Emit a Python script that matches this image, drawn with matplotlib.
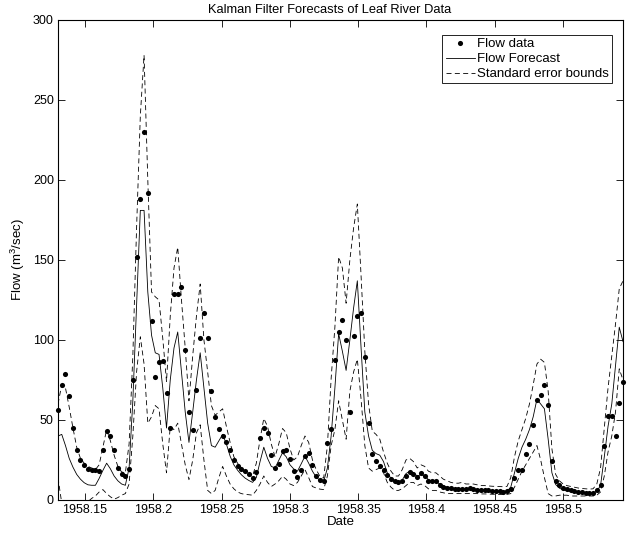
import numpy as np
import matplotlib
matplotlib.use('Agg')
import matplotlib.pyplot as plt
import matplotlib.ticker as ticker

plt.rcParams['font.family'] = ['Liberation Sans', 'DejaVu Sans']
plt.rcParams['mathtext.default'] = 'regular'

# daily series, first day
start_year = 1958.1302
days_per_year = 365.0

flow_data = [
    56, 72, 79, 65, 45, 31, 25, 22, 19.5, 19,
    18.5, 18, 31, 43, 40, 31, 20, 16, 15, 19.5,
    75, 152, 188, 230, 192, 112, 77, 86, 87, 67,
    45, 129, 129, 133, 94, 55, 44, 68.5, 101, 117,
    101, 68, 52, 44.5, 40, 36, 31, 25, 21.5, 19.6,
    18, 16, 14, 17.7, 38.8, 44.7, 42, 28.3, 19.8, 22.8,
    30.4, 31, 25.7, 18, 14.3, 18.6, 27.4, 29.5, 22, 15.2,
    12.4, 11.8, 35.9, 44.5, 87.7, 105, 112.6, 100, 55, 102.6,
    115, 117, 89.6, 47.9, 28.9, 24.3, 21, 18.6, 15.8, 13.3,
    11.6, 11.4, 11.8, 15.2, 17.3, 16.5, 14.3, 16.9, 14.8, 11.6,
    11.6, 12, 9.5, 8.4, 7.8, 7.4, 7, 7, 6.8, 6.8,
    7.4, 6.8, 6.3, 6.3, 6.2, 6.0, 5.8, 5.6, 5.5, 5.3,
    5.5, 6.8, 13.5, 18.8, 19, 28.9, 35.2, 47, 62.5, 65.5,
    71.7, 59.6, 24.3, 12, 9.1, 7.4, 6.8, 6.1, 5.5, 4.9,
    4.9, 4.4, 4.2, 4.4, 6.3, 9.5, 33.8, 52.8, 52.8, 40,
    60.6, 73.9,
]

flow_forecast = [
    40, 41, 34, 26, 20.5, 16, 13, 10.8, 9.5, 9.2,
    9.2, 13.5, 18.5, 23, 19.5, 15, 12, 10, 9.2, 20,
    62, 122, 181, 181, 130, 103, 92, 91, 70, 45,
    75, 95, 105, 80, 55, 36, 55, 75, 92, 70,
    48, 34, 33, 37, 41, 35, 27.4, 22, 18.6, 15.8,
    13.7, 12.2, 11, 14, 24, 33, 26, 21, 20, 24.7,
    29.5, 27, 22, 19.4, 18, 22.6, 27.4, 23, 18, 14.3,
    12.2, 11.6, 20, 40, 70, 104, 93, 81, 100, 120,
    137, 95, 55, 40, 31, 29, 28, 24, 17, 13.5,
    11, 10.5, 12.5, 16.5, 18, 17, 15, 15.8, 15.2, 12.7,
    11.6, 11.6, 10, 8.9, 8, 7.6, 7.2, 7, 7, 6.9,
    7.2, 7, 6.6, 6.4, 6.3, 6.1, 5.9, 5.7, 5.6, 5.4,
    5.5, 8, 17, 26, 33, 38, 44, 52, 63, 60,
    57, 38, 17, 9.7, 7.4, 6.3, 5.8, 5.4, 5, 4.7,
    4.5, 4.3, 4.1, 4.3, 5.5, 9, 27, 46, 60, 84,
    108, 99,
]

upper_bound = [
    60, 72, 70, 58, 45, 33, 26, 23, 21, 20,
    19, 22, 33, 44, 37, 28, 21, 17.5, 17, 35,
    90, 170, 240, 278, 200, 130, 127, 125, 101, 74,
    115, 145, 158, 125, 95, 62, 90, 115, 135, 100,
    80, 59, 53, 55, 57, 46, 36, 27, 23, 19.4,
    17, 15.4, 14.8, 23, 38, 51, 46, 35, 27, 35,
    44.7, 42, 32, 25, 27, 34, 40, 36, 25, 19,
    14.8, 13.7, 34, 76, 108, 152, 145, 123, 150, 170,
    185, 140, 93, 60, 43, 41, 38, 30, 23, 18,
    15, 15, 19, 25, 26, 24, 20, 22, 21, 18,
    17, 17, 15, 13, 12, 11, 10.5, 10.5, 11, 10,
    10, 10, 9.5, 9, 9, 8.8, 8.6, 8.5, 8.4, 8.3,
    8.5, 14, 27, 37, 44, 51, 60, 72, 85, 88,
    86, 68, 32, 16, 12, 10, 9, 8.5, 8, 7.5,
    7.2, 7, 6.8, 7, 10, 20, 45, 70, 90, 110,
    132, 137,
]

lower_bound = [
    14, -2, -8, -10, -9, -7, -5, -3, -1, 1,
    2.5, 5, 6.5, 4, 2, 0.5, 1.5, 3, 4, 10,
    40, 80, 102, 85, 48, 52, 59, 57, 35, 17,
    46, 44, 48, 35, 22, 12.7, 25, 42, 47, 25,
    6, 4, 6, 14, 21, 15, 10, 7, 5, 4,
    3.5, 3.3, 3, 6, 10, 15, 11, 8.4, 10, 12,
    14.8, 13, 10, 9, 11, 15, 19, 14, 8.4, 7.5,
    6.8, 6.5, 15, 34, 44, 62, 50, 38, 68, 80,
    88, 63, 34, 20, 18, 19, 20, 17, 11, 8,
    6, 6, 7, 9, 11, 11, 9, 10, 9, 7,
    6, 6, 5, 4.5, 4, 4, 4, 4, 4, 4,
    4, 4, 4, 3.8, 3.8, 3.7, 3.6, 3.5, 3.5, 3.4,
    3.5, 4, 8, 13, 18, 22, 26, 30, 34, 25,
    14, 4, 2.5, 2.5, 3, 3, 3, 2.5, 2.5, 2.5,
    2.5, 2.5, 2.5, 2.5, 3, 5, 15, 30, 40, 55,
    82, 75,
]

x_ticks = [1958.15, 1958.2, 1958.25, 1958.3, 1958.35, 1958.4, 1958.45, 1958.5]
y_ticks = [0, 50, 100, 150, 200, 250, 300]

dates = start_year + np.arange(len(flow_data)) / days_per_year

fig = plt.figure(figsize=(6.34, 5.34), dpi=100)
ax = fig.add_axes([58 / 634, 1 - 500 / 534, 565 / 634, 480 / 534])

ax.plot(dates, flow_data, linestyle='None', marker='o', ms=3.7, mew=0,
        color='black', label='Flow data', clip_on=False, zorder=3)
ax.plot(dates, flow_forecast, '-', color='black', lw=0.6, label='Flow Forecast')
ax.plot(dates, upper_bound, color='black', lw=0.6, dashes=(6, 4),
        label='Standard error bounds')
ax.plot(dates, lower_bound, color='black', lw=0.6, dashes=(6, 4))

ax.set_xlim(dates[0], dates[-1])
ax.set_ylim(0, 300)
ax.xaxis.set_major_locator(ticker.FixedLocator(x_ticks))
ax.xaxis.set_major_formatter(ticker.FormatStrFormatter('%g'))
ax.yaxis.set_major_locator(ticker.FixedLocator(y_ticks))

ax.tick_params(direction='in', top=True, right=True, length=5, width=0.6,
               labelsize=9, pad=3)
plt.setp(ax.spines.values(), linewidth=0.8)

ax.set_title('Kalman Filter Forecasts of Leaf River Data', fontsize=9.3, pad=5,
             x=0.48)
ax.set_xlabel('Date', fontsize=9.5, labelpad=0)
ax.set_ylabel('Flow (m$^3$/sec)', fontsize=9.5, labelpad=4)

leg = ax.legend(loc='upper right', bbox_to_anchor=(0.980, 0.969), borderaxespad=0,
                fontsize=9.5, frameon=True, fancybox=False, framealpha=1,
                edgecolor='black', handlelength=2.2, handletextpad=0.15,
                labelspacing=0.2, borderpad=0.25)
leg.get_frame().set_linewidth(0.6)

fig.savefig('out.png', dpi=100)
